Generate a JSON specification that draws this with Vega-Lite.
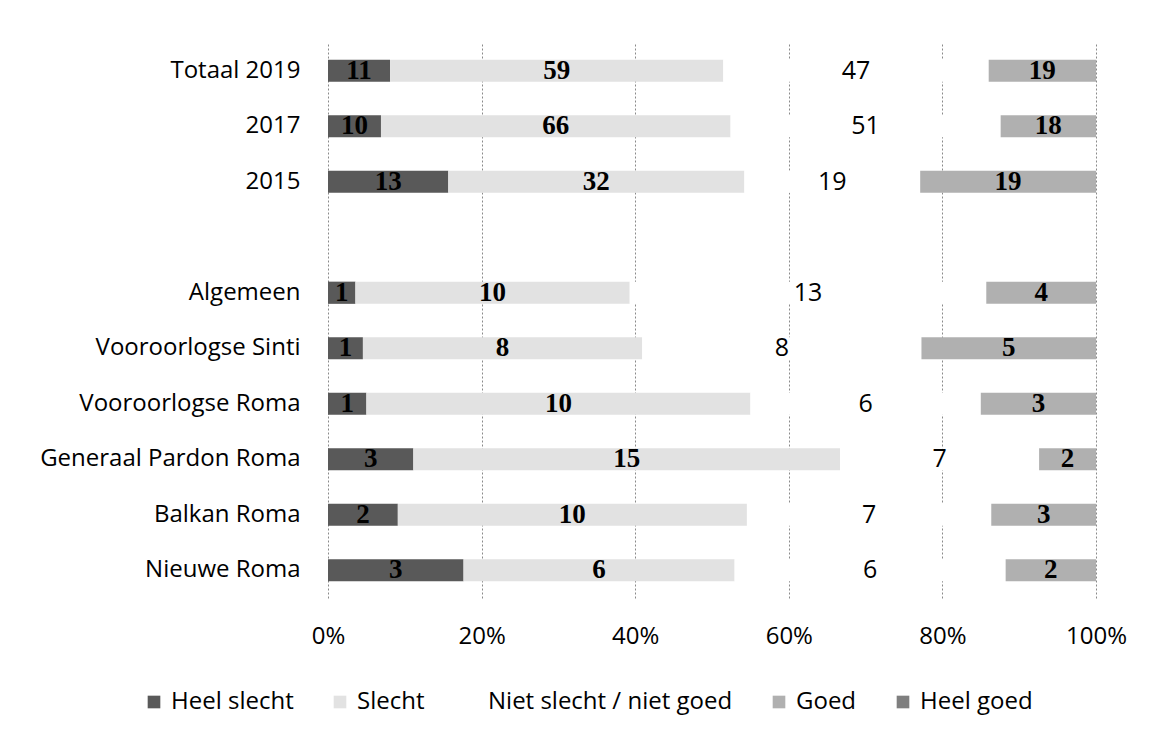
{
  "$schema": "https://vega.github.io/schema/vega-lite/v6.json",
  "width": 768,
  "height": 555,
  "autosize": {"type": "none"},
  "padding": {"left": 328, "top": 43, "right": 63, "bottom": 143},
  "background": "white",
  "config": {"view": {"stroke": null}, "font": "Open Sans"},
  "data": {
    "values": [
      {"g": "Totaal 2019", "c": "Heel slecht", "n": 1, "v": 11},
      {"g": "Totaal 2019", "c": "Slecht", "n": 2, "v": 59},
      {"g": "Totaal 2019", "c": "Niet slecht / niet goed", "n": 3, "v": 47},
      {"g": "Totaal 2019", "c": "Goed", "n": 4, "v": 19},
      {"g": "2017", "c": "Heel slecht", "n": 1, "v": 10},
      {"g": "2017", "c": "Slecht", "n": 2, "v": 66},
      {"g": "2017", "c": "Niet slecht / niet goed", "n": 3, "v": 51},
      {"g": "2017", "c": "Goed", "n": 4, "v": 18},
      {"g": "2015", "c": "Heel slecht", "n": 1, "v": 13},
      {"g": "2015", "c": "Slecht", "n": 2, "v": 32},
      {"g": "2015", "c": "Niet slecht / niet goed", "n": 3, "v": 19},
      {"g": "2015", "c": "Goed", "n": 4, "v": 19},
      {"g": "Algemeen", "c": "Heel slecht", "n": 1, "v": 1},
      {"g": "Algemeen", "c": "Slecht", "n": 2, "v": 10},
      {"g": "Algemeen", "c": "Niet slecht / niet goed", "n": 3, "v": 13},
      {"g": "Algemeen", "c": "Goed", "n": 4, "v": 4},
      {"g": "Vooroorlogse Sinti", "c": "Heel slecht", "n": 1, "v": 1},
      {"g": "Vooroorlogse Sinti", "c": "Slecht", "n": 2, "v": 8},
      {"g": "Vooroorlogse Sinti", "c": "Niet slecht / niet goed", "n": 3, "v": 8},
      {"g": "Vooroorlogse Sinti", "c": "Goed", "n": 4, "v": 5},
      {"g": "Vooroorlogse Roma", "c": "Heel slecht", "n": 1, "v": 1},
      {"g": "Vooroorlogse Roma", "c": "Slecht", "n": 2, "v": 10},
      {"g": "Vooroorlogse Roma", "c": "Niet slecht / niet goed", "n": 3, "v": 6},
      {"g": "Vooroorlogse Roma", "c": "Goed", "n": 4, "v": 3},
      {"g": "Generaal Pardon Roma", "c": "Heel slecht", "n": 1, "v": 3},
      {"g": "Generaal Pardon Roma", "c": "Slecht", "n": 2, "v": 15},
      {"g": "Generaal Pardon Roma", "c": "Niet slecht / niet goed", "n": 3, "v": 7},
      {"g": "Generaal Pardon Roma", "c": "Goed", "n": 4, "v": 2},
      {"g": "Balkan Roma", "c": "Heel slecht", "n": 1, "v": 2},
      {"g": "Balkan Roma", "c": "Slecht", "n": 2, "v": 10},
      {"g": "Balkan Roma", "c": "Niet slecht / niet goed", "n": 3, "v": 7},
      {"g": "Balkan Roma", "c": "Goed", "n": 4, "v": 3},
      {"g": "Nieuwe Roma", "c": "Heel slecht", "n": 1, "v": 3},
      {"g": "Nieuwe Roma", "c": "Slecht", "n": 2, "v": 6},
      {"g": "Nieuwe Roma", "c": "Niet slecht / niet goed", "n": 3, "v": 6},
      {"g": "Nieuwe Roma", "c": "Goed", "n": 4, "v": 2}
    ]
  },
  "encoding": {
    "y": {
      "field": "g",
      "type": "nominal",
      "scale": {
        "domain": ["Totaal 2019", "2017", "2015", " ", "Algemeen", "Vooroorlogse Sinti", "Vooroorlogse Roma", "Generaal Pardon Roma", "Balkan Roma", "Nieuwe Roma"],
        "paddingInner": 0.6,
        "paddingOuter": 0.3
      },
      "axis": {"title": null, "domain": false, "ticks": false, "labelFontSize": 24, "labelPadding": 28, "labelLimit": 400, "labelColor": "#000000", "labelFont": "Open Sans"}
    },
    "order": {"field": "n", "type": "quantitative"}
  },
  "layer": [
    {
      "mark": {"type": "bar"},
      "encoding": {
        "x": {
          "field": "v",
          "type": "quantitative",
          "stack": "normalize",
          "scale": {"domain": [0, 1]},
          "axis": {
            "title": null,
            "format": ".0%",
            "values": [0, 0.2, 0.4, 0.6, 0.8, 1],
            "grid": true,
            "gridDash": [2, 2],
            "gridColor": "#8a8a8a",
            "domain": false,
            "ticks": false,
            "labelFlush": false,
            "labelFontSize": 24,
            "labelPadding": 26,
            "labelColor": "#000000",
            "labelFont": "Open Sans"
          }
        },
        "color": {
          "field": "c",
          "type": "nominal",
          "scale": {
            "domain": ["Heel slecht", "Slecht", "Niet slecht / niet goed", "Goed", "Heel goed"],
            "range": ["#595959", "#e2e2e2", "#ffffff", "#b0b0b0", "#7f7f7f"]
          },
          "legend": {
            "title": null,
            "orient": "none",
            "legendX": -186,
            "legendY": 647,
            "direction": "horizontal",
            "symbolType": "square",
            "symbolSize": 160,
            "symbolStrokeWidth": 0,
            "labelFontSize": 24,
            "labelFont": "Open Sans",
            "labelColor": "#000000",
            "labelLimit": 400,
            "columnPadding": 34,
            "labelOffset": 5
          }
        }
      }
    },
    {
      "mark": {"type": "text", "font": "Liberation Serif", "fontWeight": "bold", "fontSize": 27, "color": "#000000", "baseline": "middle"},
      "encoding": {
        "x": {"field": "v", "type": "quantitative", "stack": "normalize", "bandPosition": 0.5},
        "text": {"condition": {"test": "datum.c !== 'Niet slecht / niet goed'", "field": "v", "type": "quantitative"}, "value": ""}
      }
    },
    {
      "mark": {"type": "text", "font": "Open Sans", "fontSize": 25, "color": "#000000", "baseline": "middle"},
      "encoding": {
        "x": {"field": "v", "type": "quantitative", "stack": "normalize", "bandPosition": 0.5},
        "text": {"condition": {"test": "datum.c === 'Niet slecht / niet goed'", "field": "v", "type": "quantitative"}, "value": ""}
      }
    }
  ]
}
